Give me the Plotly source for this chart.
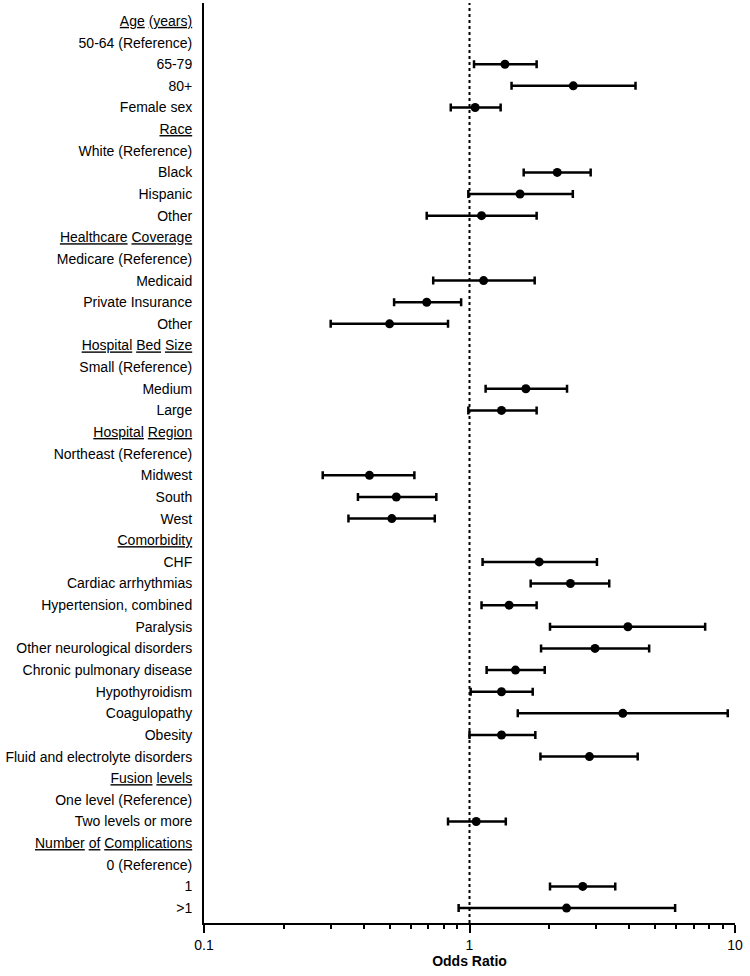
import plotly.graph_objects as go

labels = [
    "<u>Age</u> <u>(years)</u>", "50-64 (Reference)", "65-79", "80+", "Female sex",
    "<u>Race</u>", "White (Reference)", "Black", "Hispanic", "Other",
    "<u>Healthcare</u> <u>Coverage</u>", "Medicare (Reference)", "Medicaid", "Private Insurance", "Other",
    "<u>Hospital</u> <u>Bed</u> <u>Size</u>", "Small (Reference)", "Medium", "Large",
    "<u>Hospital</u> <u>Region</u>", "Northeast (Reference)", "Midwest", "South", "West",
    "<u>Comorbidity</u>", "CHF", "Cardiac arrhythmias", "Hypertension, combined", "Paralysis",
    "Other neurological disorders", "Chronic pulmonary disease", "Hypothyroidism", "Coagulopathy",
    "Obesity", "Fluid and electrolyte disorders",
    "<u>Fusion</u> <u>levels</u>", "One level (Reference)", "Two levels or more",
    "<u>Number</u> <u>of</u> <u>Complications</u>", "0 (Reference)", "1", ">1",
]

odds = [
    None, None, 1.36, 2.46, 1.05,
    None, None, 2.14, 1.55, 1.11,
    None, None, 1.13, 0.69, 0.50,
    None, None, 1.63, 1.32,
    None, None, 0.42, 0.53, 0.51,
    None, 1.83, 2.40, 1.41, 3.95,
    2.97, 1.49, 1.32, 3.78,
    1.32, 2.83,
    None, None, 1.06,
    None, None, 2.67, 2.32,
]

ci_low = [
    None, None, 1.04, 1.44, 0.85,
    None, None, 1.60, 0.99, 0.69,
    None, None, 0.73, 0.52, 0.30,
    None, None, 1.15, 0.99,
    None, None, 0.28, 0.38, 0.35,
    None, 1.12, 1.70, 1.11, 2.01,
    1.86, 1.16, 1.01, 1.52,
    1.00, 1.85,
    None, None, 0.83,
    None, None, 2.01, 0.91,
]

ci_high = [
    None, None, 1.79, 4.22, 1.31,
    None, None, 2.86, 2.45, 1.79,
    None, None, 1.76, 0.93, 0.83,
    None, None, 2.33, 1.79,
    None, None, 0.62, 0.75, 0.74,
    None, 3.02, 3.36, 1.79, 7.72,
    4.75, 1.92, 1.73, 9.39,
    1.77, 4.30,
    None, None, 1.37,
    None, None, 3.54, 5.95,
]

rows = list(range(1, len(labels) + 1))
xs, ys, eplus, eminus = [], [], [], []
for r, o, lo, hi in zip(rows, odds, ci_low, ci_high):
    if o is None:
        continue
    xs.append(o)
    ys.append(r)
    eplus.append(hi - o)
    eminus.append(o - lo)

fig = go.Figure()
fig.add_trace(go.Scatter(
    x=xs, y=ys, mode="markers",
    marker=dict(color="black", size=9),
    error_x=dict(type="data", symmetric=False, array=eplus, arrayminus=eminus,
                 color="black", thickness=2.5, width=4),
    showlegend=False,
))

fig.add_shape(type="line", xref="x", yref="paper", x0=1, x1=1, y0=0, y1=1,
              line=dict(color="black", width=2, dash="dot"))

fig.update_layout(
    width=750, height=976,
    margin=dict(l=204, r=15, t=3, b=53),
    plot_bgcolor="white", paper_bgcolor="white",
    font=dict(family="Liberation Sans, Arial, sans-serif", size=14, color="black"),
    xaxis=dict(
        type="log", range=[-1, 1],
        tickvals=[0.1, 1, 10], ticktext=["0.1", "1", "10"],
        ticks="outside", ticklen=8, tickwidth=2, tickcolor="black",
        minor=dict(tickvals=[0.2, 0.3, 0.4, 0.5, 0.6, 0.7, 0.8, 0.9,
                             2, 3, 4, 5, 6, 7, 8, 9],
                   ticks="outside", ticklen=4, tickwidth=2, tickcolor="black", showgrid=False),
        showline=True, linecolor="black", linewidth=2,
        showgrid=False, zeroline=False,
        tickfont=dict(size=14),
        title=dict(text="<b>Odds Ratio</b>", font=dict(size=14), standoff=4),
    ),
    yaxis=dict(
        range=[42.69, 0.17],
        tickvals=rows, ticktext=labels,
        ticks="", ticklabelstandoff=7,
        showline=True, linecolor="black", linewidth=2,
        showgrid=False, zeroline=False,
        tickfont=dict(size=14),
    ),
)

fig.write_html("out.html", config={"displayModeBar": False},
               post_script="document.body.style.margin='0';")
